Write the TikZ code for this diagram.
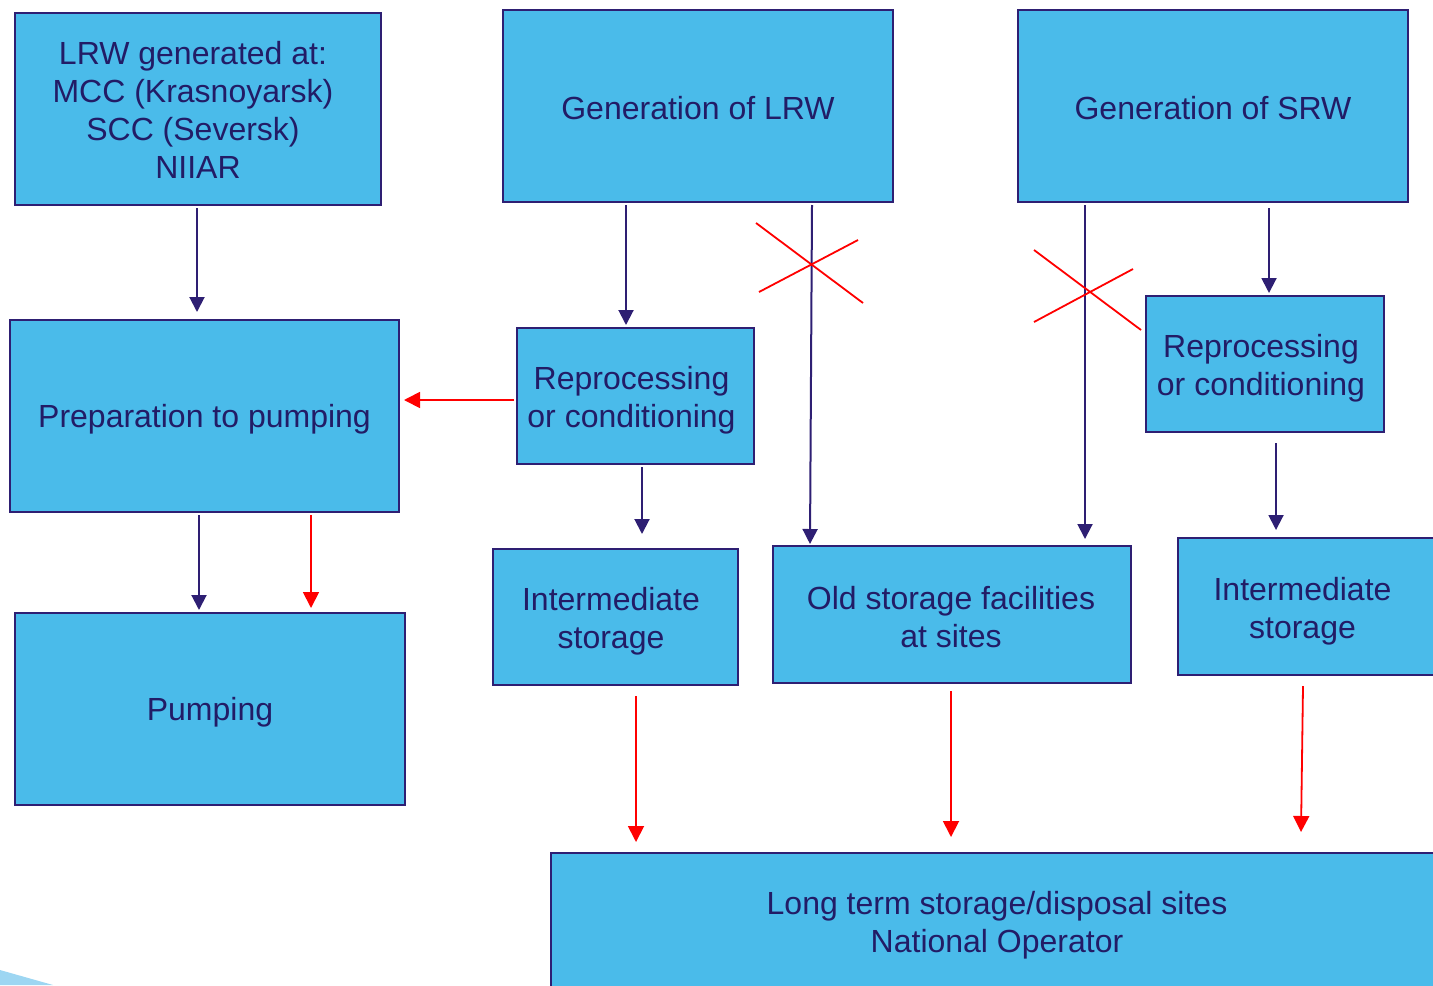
\documentclass[tikz,border=0pt]{standalone}
\usepackage{fontspec}
\setmainfont{Liberation Sans}
\usetikzlibrary{arrows.meta,calc}
\definecolor{boxfill}{HTML}{4ABBEA}
\definecolor{navy}{HTML}{2E1F73}
\definecolor{txt}{HTML}{221C66}
\definecolor{lightblue}{HTML}{9DD6F2}
\definecolor{myred}{HTML}{FF0000}
% shifted text block: #1 horizontal shift, #2 vertical shift, #3 lines
\newcommand\shtxt[3]{\raisebox{#2}[\height][\depth]{\hspace*{#1}\begin{tabular}{@{}c@{}}#3\end{tabular}\hspace*{-#1}}}
\tikzset{
  box/.style={draw=navy, fill=boxfill, line width=1pt, inner sep=0pt, align=center,
    text=txt, font=\fontsize{16}{19}\selectfont},
  navyarrow/.style={draw=navy, line width=1pt, -{Triangle[length=7.5pt,width=7.5pt]}},
  redarrow/.style={draw=myred, line width=0.9pt, -{Triangle[length=8pt,width=8pt]}},
  crossline/.style={draw=myred, line width=0.9pt}
}
\begin{document}
\begin{tikzpicture}[x=0.5pt,y=-0.5pt]
\useasboundingbox (0,0) rectangle (1433,985);
\fill[lightblue] (0,970) -- (53,985) -- (0,985) -- cycle;
% boxes
\node[box, minimum width=183pt, minimum height=96pt] (b1) at (198,109)
  {\shtxt{-2.5pt}{-2.5pt}{LRW generated at:\\MCC (Krasnoyarsk)\\SCC (Seversk)\\\hspace*{5pt}NIIAR}};
\node[box, minimum width=195pt, minimum height=96pt] (b2) at (698,106) {\shtxt{0pt}{-3pt}{Generation of LRW}};
\node[box, minimum width=195pt, minimum height=96pt] (b3) at (1213,106) {\shtxt{0pt}{-3pt}{Generation of SRW}};
\node[box, minimum width=194.5pt, minimum height=96pt] (b4) at (204.5,416) {\shtxt{0pt}{-1.8pt}{Preparation to pumping}};
\node[box, minimum width=118.5pt, minimum height=68pt] (b5) at (635.5,396) {\shtxt{-2pt}{-2.55pt}{Reprocessing\\or conditioning}};
\node[box, minimum width=119pt, minimum height=68pt] (b6) at (1265,364) {\shtxt{-2pt}{-2.55pt}{Reprocessing\\or conditioning}};
\node[box, minimum width=195pt, minimum height=96pt] (b7) at (210,709) {\shtxt{0pt}{-1.8pt}{Pumping}};
\node[box, minimum width=122.5pt, minimum height=68pt] (b8) at (615.5,617) {\shtxt{-2.25pt}{-2.3pt}{Intermediate\\storage}};
\node[box, minimum width=179pt, minimum height=68.5pt] (b9) at (952,614.5) {\shtxt{-0.5pt}{-3.2pt}{Old storage facilities\\at sites}};
\node[box, minimum width=131pt, minimum height=68.5pt] (b10) at (1309,606.5) {\shtxt{-3.25pt}{-2.8pt}{Intermediate\\storage}};
\node[box, minimum width=446pt, minimum height=69pt] (b11) at (997,922) {\shtxt{0pt}{-2.05pt}{Long term storage/disposal sites\\National Operator}};
% navy connectors
\draw[navyarrow] ($(b1.south)+(-1,2)$) -- ($(b4.north)+(-7.5,-7)$);
\draw[navyarrow] ($(b2.south)+(-72,2)$) -- ($(b5.north)+(-9.5,-2)$);
\draw[navyarrow] ($(b2.south)+(114,2)$) -- ($(b9.north)+(-142,-1)$);
\draw[navyarrow] ($(b3.south)+(-128,2)$) -- ($(b9.north)+(133,-6)$);
\draw[navyarrow] ($(b3.south)+(56,5)$) -- ($(b6.north)+(4,-2)$);
\draw[navyarrow] ($(b5.south)+(6.5,2)$) -- ($(b8.north)+(26.5,-14)$);
\draw[navyarrow] ($(b4.south)+(-5.5,2)$) -- ($(b7.north)+(-11,-2)$);
\draw[navyarrow] ($(b6.south)+(11,10)$) -- ($(b10.north)+(-33,-7)$);
% red connectors
\draw[redarrow] ($(b5.west)+(-2,4)$) -- ($(b4.east)+(4,-16)$);
\draw[redarrow] ($(b4.south)+(106.5,2)$) -- ($(b7.north)+(101,-4)$);
\draw[redarrow] ($(b8.south)+(20.5,10)$) -- ($(b11.north)+(-361,-10)$);
\draw[redarrow] ($(b9.south)+(-1,7)$) -- ($(b11.north)+(-46,-15)$);
\draw[redarrow] ($(b10.south)+(-6,10)$) -- ($(b11.north)+(304,-20)$);
% crosses
\draw[crossline] (756,223) -- (863,303);
\draw[crossline] (759,292) -- (858,240);
\draw[crossline] (1034,250) -- (1141,330);
\draw[crossline] (1034,322) -- (1133,269);
\end{tikzpicture}
\end{document}
